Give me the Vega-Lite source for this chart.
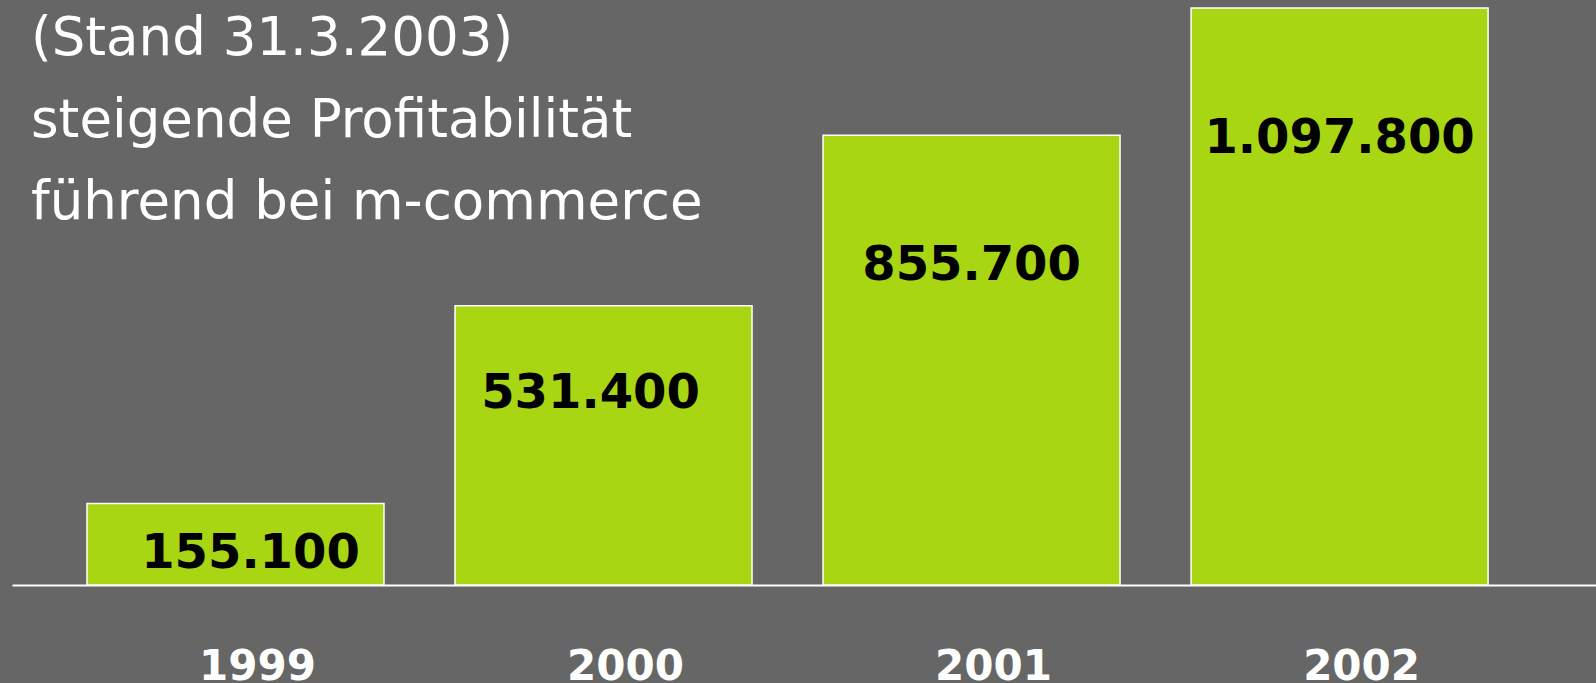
{
  "$schema": "https://vega.github.io/schema/vega-lite/v6.json",
  "autosize": {"type": "none"},
  "padding": {"left": 12, "top": 0, "right": 0, "bottom": 98},
  "width": 1584,
  "height": 585,
  "background": "#666666",
  "config": {"view": {"stroke": null}, "font": "DejaVu Sans"},
  "title": {
    "text": ["(Stand 31.3.2003)", "steigende Profitabilität", "führend bei m-commerce"],
    "anchor": "start",
    "frame": "group",
    "orient": "top",
    "offset": 0,
    "dx": 19,
    "dy": 272,
    "baseline": "alphabetic",
    "lineHeight": 82,
    "fontSize": 53,
    "fontWeight": "normal",
    "font": "DejaVu Sans",
    "color": "#ffffff"
  },
  "data": {
    "values": [
      {"year": "1999", "value": 155100, "label": "155.100"},
      {"year": "2000", "value": 531400, "label": "531.400"},
      {"year": "2001", "value": 855700, "label": "855.700"},
      {"year": "2002", "value": 1097800, "label": "1.097.800"}
    ]
  },
  "encoding": {
    "x": {
      "field": "year",
      "type": "nominal",
      "sort": null,
      "scale": {"paddingInner": 0.193, "paddingOuter": 0.2485, "align": 0.41},
      "axis": {
        "title": null,
        "labelAngle": 0,
        "labelColor": "#ffffff",
        "labelFont": "DejaVu Sans",
        "labelFontSize": 42,
        "labelFontWeight": "bold",
        "labelBaseline": "alphabetic",
        "labelPadding": 94,
        "labelOffset": 22,
        "ticks": false,
        "domainColor": "#ffffff",
        "domainWidth": 2,
        "grid": false
      }
    },
    "y": {
      "field": "value",
      "type": "quantitative",
      "scale": {"domain": [0, 1113000], "nice": false},
      "axis": null
    }
  },
  "layer": [
    {
      "mark": {"type": "bar", "color": "#a8d613", "stroke": "#ffffff", "strokeWidth": 1.5}
    },
    {
      "transform": [{"filter": "datum.year == '2001' || datum.year == '2002'"}],
      "mark": {"type": "text", "font": "DejaVu Sans", "fontSize": 48, "fontWeight": "bold", "color": "#000000", "align": "center", "baseline": "alphabetic", "dy": 145},
      "encoding": {"text": {"field": "label"}}
    },
    {
      "transform": [{"filter": "datum.year == '2000'"}],
      "mark": {"type": "text", "font": "DejaVu Sans", "fontSize": 48, "fontWeight": "bold", "color": "#000000", "align": "center", "baseline": "alphabetic", "dy": 102, "dx": -13},
      "encoding": {"text": {"field": "label"}}
    },
    {
      "transform": [{"filter": "datum.year == '1999'"}],
      "mark": {"type": "text", "font": "DejaVu Sans", "fontSize": 48, "fontWeight": "bold", "color": "#000000", "align": "center", "baseline": "alphabetic", "dy": 65, "dx": 15},
      "encoding": {"text": {"field": "label"}}
    }
  ]
}
